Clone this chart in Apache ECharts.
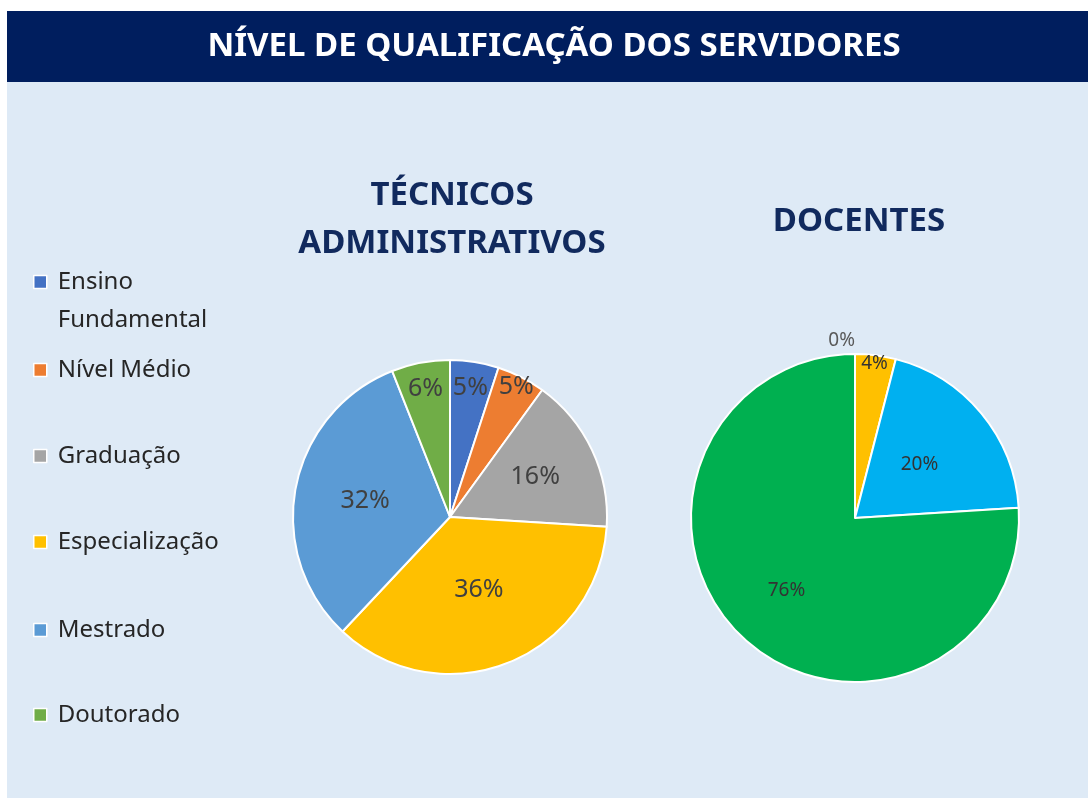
<!DOCTYPE html>
<html>
<head>
<meta charset="utf-8">
<title>Nível de qualificação dos servidores</title>
<script src="https://cdn.jsdelivr.net/npm/echarts@6/dist/echarts.min.js"></script>
<style>
  html, body { margin: 0; padding: 0; background: #ffffff; }
  #chart { width: 1088px; height: 798px; }
</style>
</head>
<body>
<div id="chart"></div>
<script>
// Qualification levels and the share (%) of each staff group
const categories = ['Ensino Fundamental', 'Nível Médio', 'Graduação', 'Especialização', 'Mestrado', 'Doutorado'];
const tecnicosValues = [5, 5, 16, 36, 32, 6];

const docentesCategories = ['Graduação', 'Especialização', 'Mestrado', 'Doutorado'];
const docentesValues = [0, 4, 20, 76];

const mainTitle = 'NÍVEL DE QUALIFICAÇÃO DOS SERVIDORES';
const tecnicosTitle = ['TÉCNICOS', 'ADMINISTRATIVOS'];
const docentesTitle = 'DOCENTES';

// Colours
const tecnicosColors = ['#4472C4', '#ED7D31', '#A5A5A5', '#FFC000', '#5B9BD5', '#70AD47'];
const docentesColors = ['#A5A5A5', '#FFC000', '#00B0F0', '#00B050'];

// Layout
const FONT = '"Noto Sans", "Open Sans", sans-serif';
const TEC_CENTER = [450, 517], TEC_R = 157;
const DOC_CENTER = [855, 518], DOC_R = 164;
// radial placement of each slice label (fraction of the radius)
const tecLabelRadius = [0.83, 0.93, 0.6, 0.5, 0.55, 0.83];
const docLabelRadius = [1.08, 0.95, 0.51, 0.61];
// vertical centre of each legend entry (first text line)
const legendRows = [282, 370, 456, 542, 630, 715];
const LEGEND_LINE = 38;

function labelPlacer(values, center, r, ratios) {
  const total = values.reduce((a, b) => a + b, 0);
  const starts = [];
  let acc = 0;
  values.forEach(v => { starts.push(acc); acc += v; });
  return function (params) {
    const i = params.dataIndex;
    const mid = (starts[i] + values[i] / 2) / total * Math.PI * 2;
    const rr = r * ratios[i];
    return {
      x: center[0] + rr * Math.sin(mid),
      y: center[1] - rr * Math.cos(mid),
      align: ratios[i] > 1 ? 'right' : 'center',
      verticalAlign: 'middle'
    };
  };
}

// One legend block per level so each row can sit at its own height.
// A long name wraps onto two lines; a leading blank line keeps the
// swatch level with the first line of text.
const legends = categories.map((name, i) => {
  const multiLine = name.indexOf(' ') > 0 && name.length > 14;
  const lines = multiLine ? 3 : 1;
  return {
    orient: 'vertical',
    left: 28,
    top: legendRows[i] - 5 - (lines * LEGEND_LINE) / 2,
    data: [name],
    icon: 'rect',
    itemWidth: 13,
    itemHeight: 13,
    selectedMode: false,
    itemStyle: { borderColor: '#ffffff', borderWidth: 1.5 },
    formatter: multiLine ? n => '\n' + n.replace(' ', '\n') : n => n,
    textStyle: {
      fontFamily: FONT,
      fontSize: 24,
      color: '#262626',
      lineHeight: LEGEND_LINE,
      padding: [0, 0, 0, 6]
    }
  };
});

const chart = echarts.init(document.getElementById('chart'), null, { renderer: 'canvas' });

const headingFont = 'bold 33px ' + FONT;

chart.setOption({
  animation: false,
  backgroundColor: '#ffffff',
  graphic: [
    { type: 'rect', z: -10, shape: { x: 7, y: 11, width: 1081, height: 787 }, style: { fill: '#DEEAF6' } },
    { type: 'rect', z: -9, shape: { x: 7, y: 11, width: 1081, height: 71 }, style: { fill: '#001E5E' } },
    { type: 'text', x: 554, y: 47, style: { text: mainTitle, fill: '#ffffff', font: headingFont, align: 'center', verticalAlign: 'middle' } },
    { type: 'text', x: 452, y: 196, style: { text: tecnicosTitle[0], fill: '#112A5E', font: headingFont, align: 'center', verticalAlign: 'middle' } },
    { type: 'text', x: 452, y: 244, style: { text: tecnicosTitle[1], fill: '#112A5E', font: headingFont, align: 'center', verticalAlign: 'middle' } },
    { type: 'text', x: 859, y: 222, style: { text: docentesTitle, fill: '#112A5E', font: headingFont, align: 'center', verticalAlign: 'middle' } }
  ],
  legend: legends,
  series: [
    {
      name: tecnicosTitle.join(' '),
      type: 'pie',
      center: TEC_CENTER,
      radius: TEC_R,
      startAngle: 90,
      clockwise: true,
      avoidLabelOverlap: false,
      emphasis: { disabled: true },
      itemStyle: { borderColor: '#ffffff', borderWidth: 2 },
      label: {
        show: true,
        position: 'inside',
        formatter: '{c}%',
        fontFamily: FONT,
        fontSize: 25,
        color: '#404040'
      },
      labelLine: { show: false },
      labelLayout: labelPlacer(tecnicosValues, TEC_CENTER, TEC_R, tecLabelRadius),
      data: categories.map((name, i) => ({ name, value: tecnicosValues[i], itemStyle: { color: tecnicosColors[i] } }))
    },
    {
      name: docentesTitle,
      type: 'pie',
      center: DOC_CENTER,
      radius: DOC_R,
      startAngle: 90,
      clockwise: true,
      avoidLabelOverlap: false,
      emphasis: { disabled: true },
      itemStyle: { borderColor: '#ffffff', borderWidth: 2 },
      label: {
        show: true,
        position: 'inside',
        formatter: '{c}%',
        fontFamily: FONT,
        fontSize: 19,
        color: '#333333'
      },
      labelLine: { show: false },
      labelLayout: labelPlacer(docentesValues, DOC_CENTER, DOC_R, docLabelRadius),
      data: docentesCategories.map((name, i) => ({
        name, value: docentesValues[i],
        itemStyle: { color: docentesColors[i] },
        label: i === 0 ? { color: '#595959' } : undefined
      }))
    }
  ]
});
</script>
</body>
</html>
